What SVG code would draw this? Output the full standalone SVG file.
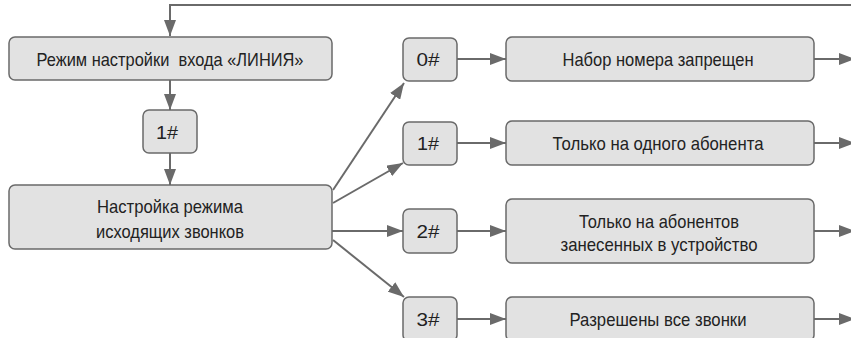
<svg xmlns="http://www.w3.org/2000/svg" width="851" height="338" viewBox="0 0 851 338">
<style>
.box{fill:#e2e2e2;stroke:#6a6a6a;stroke-width:1.5}
.ln{stroke:#6a6a6a;stroke-width:2;fill:none}
text{font-family:"Liberation Sans",Arial,sans-serif;font-size:19px;fill:#222;text-anchor:middle;white-space:pre}
</style>
<defs>
<marker id="ah" markerUnits="userSpaceOnUse" markerWidth="16" markerHeight="12" viewBox="0 0 16 12" refX="16" refY="6" orient="auto">
<path d="M0,0 L16,6 L0,12 z" fill="#6a6a6a"/>
</marker>
</defs>
<rect width="851" height="338" fill="#fff"/>
<g id="connectors">
<polyline class="ln" points="851,5 170,5 170,36" marker-end="url(#ah)"/>
<line class="ln" x1="170" y1="80" x2="170" y2="110" marker-end="url(#ah)"/>
<line class="ln" x1="170" y1="153" x2="170" y2="185" marker-end="url(#ah)"/>
<line class="ln" x1="333" y1="190" x2="404" y2="83" marker-end="url(#ah)"/>
<line class="ln" x1="333" y1="203" x2="403" y2="163" marker-end="url(#ah)"/>
<line class="ln" x1="332" y1="231" x2="403" y2="231" marker-end="url(#ah)"/>
<line class="ln" x1="333" y1="240" x2="404" y2="297" marker-end="url(#ah)"/>
<line class="ln" x1="457" y1="59" x2="506" y2="59" marker-end="url(#ah)"/>
<line class="ln" x1="457" y1="143" x2="506" y2="143" marker-end="url(#ah)"/>
<line class="ln" x1="457" y1="231" x2="506" y2="231" marker-end="url(#ah)"/>
<line class="ln" x1="457" y1="319" x2="506" y2="319" marker-end="url(#ah)"/>
<line class="ln" x1="814" y1="59" x2="855" y2="59" marker-end="url(#ah)"/>
<line class="ln" x1="814" y1="143" x2="855" y2="143" marker-end="url(#ah)"/>
<line class="ln" x1="814" y1="231" x2="855" y2="231" marker-end="url(#ah)"/>
<line class="ln" x1="814" y1="319" x2="855" y2="319" marker-end="url(#ah)"/>
</g>
<g id="mode">
<rect class="box" x="9" y="37" width="323" height="43" rx="6"/>
<text x="170" y="66" textLength="267" lengthAdjust="spacingAndGlyphs">Режим настройки  входа «ЛИНИЯ»</text>
</g>
<g id="k1">
<rect class="box" x="143" y="110" width="54" height="43" rx="6"/>
<text x="167" y="139" textLength="22" lengthAdjust="spacingAndGlyphs">1#</text>
</g>
<g id="setup">
<rect class="box" x="9" y="185" width="323" height="64" rx="6"/>
<text x="170" y="213" textLength="146" lengthAdjust="spacingAndGlyphs">Настройка режима</text>
<text x="170" y="238" textLength="148" lengthAdjust="spacingAndGlyphs">исходящих звонков</text>
</g>
<g id="o0">
<rect class="box" x="403" y="38" width="54" height="43" rx="6"/>
<text x="428" y="66" textLength="23" lengthAdjust="spacingAndGlyphs">0#</text>
</g>
<g id="o1">
<rect class="box" x="403" y="122" width="54" height="43" rx="6"/>
<text x="428" y="150" textLength="22" lengthAdjust="spacingAndGlyphs">1#</text>
</g>
<g id="o2">
<rect class="box" x="403" y="209" width="54" height="44" rx="6"/>
<text x="428" y="238" textLength="23" lengthAdjust="spacingAndGlyphs">2#</text>
</g>
<g id="o3">
<rect class="box" x="403" y="297" width="54" height="44" rx="6"/>
<text x="428" y="326" textLength="23" lengthAdjust="spacingAndGlyphs">3#</text>
</g>
<g id="r0">
<rect class="box" x="506" y="37" width="308" height="44" rx="6"/>
<text x="658" y="66" textLength="191" lengthAdjust="spacingAndGlyphs">Набор номера запрещен</text>
</g>
<g id="r1">
<rect class="box" x="506" y="121" width="308" height="44" rx="6"/>
<text x="658" y="150" textLength="211" lengthAdjust="spacingAndGlyphs">Только на одного абонента</text>
</g>
<g id="r2">
<rect class="box" x="506" y="199" width="308" height="64" rx="6"/>
<text x="659" y="228" textLength="160" lengthAdjust="spacingAndGlyphs">Только на абонентов</text>
<text x="659" y="251" textLength="197" lengthAdjust="spacingAndGlyphs">занесенных в устройство</text>
</g>
<g id="r3">
<rect class="box" x="506" y="297" width="308" height="44" rx="6"/>
<text x="658" y="326" textLength="177" lengthAdjust="spacingAndGlyphs">Разрешены все звонки</text>
</g>
</svg>
